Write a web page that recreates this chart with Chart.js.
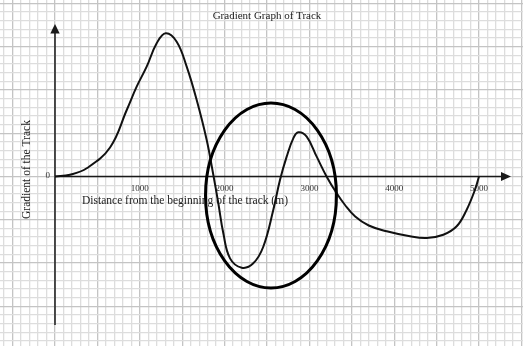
<!DOCTYPE html>
<html>
<head>
<meta charset="utf-8">
<script src="https://cdn.jsdelivr.net/npm/chart.js@4.4.1/dist/chart.umd.min.js"></script>
<style>
  html, body { margin: 0; padding: 0; background: #fff; }
  #wrap { width: 523px; height: 346px; position: relative; }
</style>
</head>
<body>
<div id="wrap"><canvas id="trackChart"></canvas></div>
<script>
// Distance along the track (m) and gradient (one grid square per unit)
const distances = [0, 177, 374, 649, 846, 963, 1081, 1199, 1305, 1435, 1553, 1671, 1789, 1863,
  1926, 1985, 2064, 2202, 2338, 2456, 2574, 2653, 2732, 2810, 2869, 2968, 3086, 3204, 3322,
  3420, 3540, 3700, 3912, 4186, 4383, 4579, 4737, 4855, 4953, 5000];
const gradients = [0, 0.2, 0.95, 3.35, 7.68, 10.37, 12.68, 15.38, 16.54, 15.57, 12.68, 8.83, 4.21, 0.4,
  -3.09, -6.56, -9.45, -10.53, -10.02, -8.11, -3.87, -0.4, 2.29, 4.41, 5.1, 4.6, 2.29, -0.02, -1.94,
  -3.29, -4.62, -5.66, -6.33, -6.91, -7.1, -6.72, -5.75, -3.83, -1.52, 0];

const tickValues = [1000, 2000, 3000, 4000, 5000];
const tickLabels = ['1000', '2000', '3000', '4000', '5000'];

// highlighted region: centre (m, gradient) and radii in the same units
const ringCentre = [2547, -2.19];
const ringRadius = [772, 10.68];

const chartTitle = 'Gradient Graph of Track';
const xTitle = 'Distance from the beginning of the track (m)';
const yTitle = 'Gradient of the Track';

const SERIF = '"Liberation Serif", "DejaVu Serif", serif';

function squareTicks(step) {
  return scale => {
    const ticks = [];
    for (let v = Math.ceil(scale.min / step) * step; v <= scale.max; v += step) {
      ticks.push({ value: Math.round(v * 1000) / 1000 });
    }
    scale.ticks = ticks;
  };
}

function gridColor(major) {
  return c => (Math.abs(c.tick.value % major) < 1e-6 ? '#c4c4c4' : '#dddddd');
}

// axes with arrow heads, labels and the ellipse
const sketchPlugin = {
  id: 'sketch',
  beforeDatasetsDraw(chart) {
    const { ctx, scales: { x, y } } = chart;
    const x0 = x.getPixelForValue(0);
    const y0 = y.getPixelForValue(0);
    ctx.save();
    ctx.strokeStyle = '#1a1a1a';
    ctx.fillStyle = '#1a1a1a';
    ctx.lineWidth = 1.5;

    // horizontal axis
    const xEnd = 503;
    ctx.beginPath();
    ctx.moveTo(x0, y0);
    ctx.lineTo(xEnd, y0);
    ctx.stroke();
    ctx.beginPath();
    ctx.moveTo(xEnd - 2, y0 - 4.5);
    ctx.lineTo(xEnd + 8, y0);
    ctx.lineTo(xEnd - 2, y0 + 4.5);
    ctx.closePath();
    ctx.fill();

    // vertical axis
    const yTop = 32;
    ctx.beginPath();
    ctx.moveTo(x0, 325);
    ctx.lineTo(x0, yTop);
    ctx.stroke();
    ctx.beginPath();
    ctx.moveTo(x0 - 4.7, yTop + 1.5);
    ctx.lineTo(x0, yTop - 8);
    ctx.lineTo(x0 + 4.7, yTop + 1.5);
    ctx.closePath();
    ctx.fill();

    // tick labels
    ctx.fillStyle = '#333';
    ctx.font = '9px ' + SERIF;
    ctx.textAlign = 'center';
    ctx.textBaseline = 'middle';
    tickValues.forEach((v, i) => {
      ctx.fillText(tickLabels[i], x.getPixelForValue(v), y0 + 12);
    });
    ctx.textAlign = 'right';
    ctx.fillText('0', x0 - 5, y0 - 0.5);

    // titles
    ctx.fillStyle = '#222';
    ctx.font = '11.5px ' + SERIF;
    ctx.textAlign = 'left';
    ctx.fillText(xTitle, x0 + 27, y0 + 24);

    ctx.font = '11px ' + SERIF;
    ctx.textAlign = 'center';
    ctx.fillText(chartTitle, x.getPixelForValue(2500), 16);

    ctx.save();
    ctx.translate(x0 - 28, y0 - 7);
    ctx.rotate(-Math.PI / 2);
    ctx.font = '11.5px ' + SERIF;
    ctx.fillText(yTitle, 0, 0);
    ctx.restore();
    ctx.restore();
  },
  afterDatasetsDraw(chart) {
    const { ctx, scales: { x, y } } = chart;
    const cx = x.getPixelForValue(ringCentre[0]);
    const cy = y.getPixelForValue(ringCentre[1]);
    const rx = Math.abs(x.getPixelForValue(ringCentre[0] + ringRadius[0]) - cx);
    const ry = Math.abs(y.getPixelForValue(ringCentre[1] + ringRadius[1]) - cy);
    ctx.save();
    ctx.strokeStyle = '#000';
    ctx.lineWidth = 3;
    ctx.beginPath();
    ctx.ellipse(cx, cy, rx, ry, 0, 0, Math.PI * 2);
    ctx.stroke();
    ctx.restore();
  }
};

new Chart(document.getElementById('trackChart'), {
  type: 'line',
  data: {
    datasets: [{
      data: distances.map((d, i) => ({ x: d, y: gradients[i] })),
      borderColor: '#111',
      borderWidth: 2,
      pointRadius: 0,
      fill: false,
      tension: 0.4
    }]
  },
  options: {
    responsive: true,
    maintainAspectRatio: false,
    animation: false,
    layout: { padding: 0 },
    plugins: { legend: { display: false }, tooltip: { enabled: false } },
    scales: {
      x: {
        type: 'linear',
        min: -648.6,
        max: 5518.9,
        afterBuildTicks: squareTicks(100),
        ticks: { display: false },
        border: { display: false },
        grid: { drawTicks: false, color: gridColor(500), lineWidth: 1.3 }
      },
      y: {
        type: 'linear',
        min: -19.57,
        max: 20.38,
        afterBuildTicks: squareTicks(1),
        ticks: { display: false },
        border: { display: false },
        grid: { drawTicks: false, color: gridColor(5), lineWidth: 1.3 }
      }
    }
  },
  plugins: [sketchPlugin]
});
</script>
</body>
</html>
